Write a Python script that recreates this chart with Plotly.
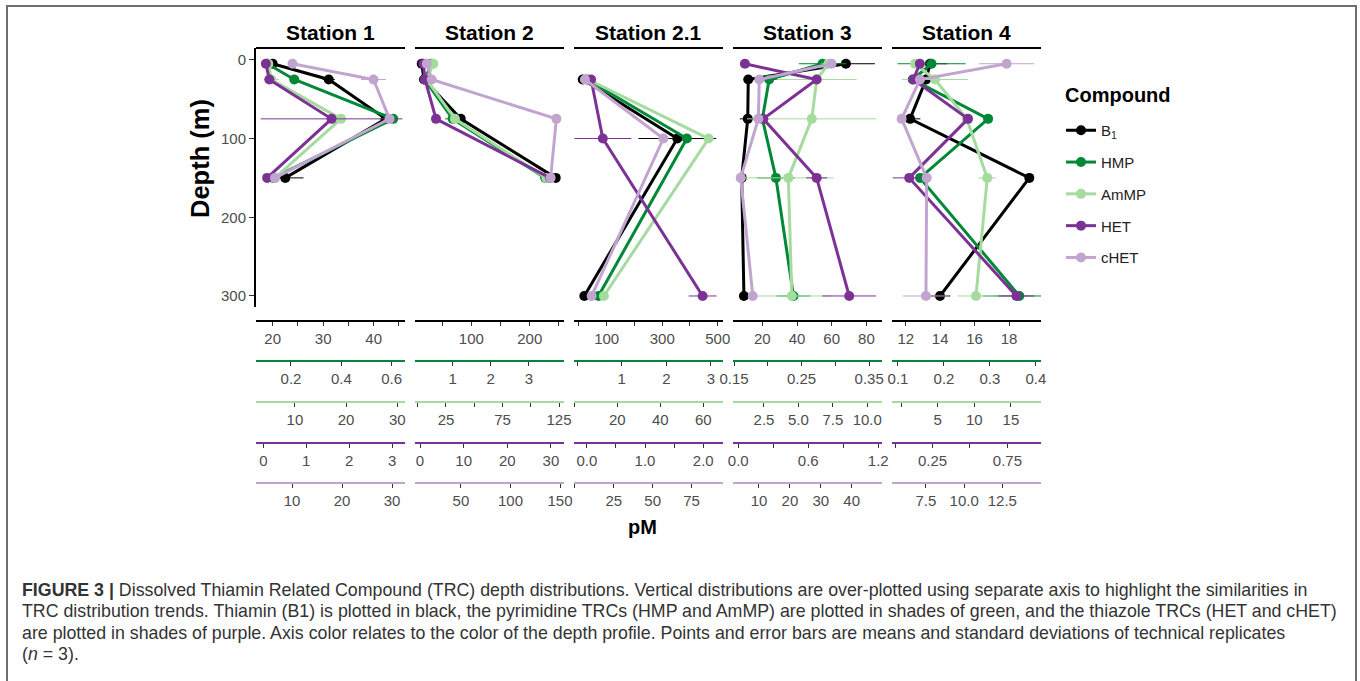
import plotly.graph_objects as go

W, H = 1360, 681
FONT = "Liberation Sans, Arial, Helvetica, sans-serif"

# ---------------- data ----------------
STATIONS = ["Station 1", "Station 2", "Station 2.1", "Station 3", "Station 4"]
COMPOUNDS = ["B1", "HMP", "AmMP", "HET", "cHET"]
LEGEND_NAMES = ["B<sub>1</sub>", "HMP", "AmMP", "HET", "cHET"]
COLORS = ["#000000", "#008837", "#a6dba0", "#7b3294", "#c2a5cf"]

# Station 1
s1_depth = [5, 25, 75, 150]
s1_B1 = [20.0, 31.1, 42.4, 22.5]
s1_B1_sd = [0.3, 1.2, 1.2, 3.6]
s1_HMP = [0.106, 0.213, 0.606, 0.13]
s1_HMP_sd = [0.01, 0.01, 0.02, 0.01]
s1_AmMP = [4.8, 5.4, 19.0, 6.1]
s1_AmMP_sd = [0.3, 1.5, 0.8, 0.5]
s1_HET = [0.06, 0.14, 1.59, 0.09]
s1_HET_sd = [0.01, 0.01, 1.65, 0.01]
s1_cHET = [10.1, 26.3, 29.5, 6.6]
s1_cHET_sd = [0.3, 2.5, 0.5, 0.3]

# Station 2
s2_depth = [5, 25, 75, 150]
s2_B1 = [15.1, 19.0, 81.9, 244.5]
s2_B1_sd = [1.0, 1.0, 5.0, 2.0]
s2_HMP = [0.45, 0.27, 1.0, 3.43]
s2_HMP_sd = [0.03, 0.02, 0.2, 0.15]
s2_AmMP = [13.8, 7.9, 32.9, 113.8]
s2_AmMP_sd = [1.0, 0.5, 1.0, 1.0]
s2_HET = [0.75, 1.14, 3.66, 29.8]
s2_HET_sd = [0.05, 0.05, 0.1, 0.3]
s2_cHET = [15.6, 20.6, 146.3, 140.5]
s2_cHET_sd = [0.5, 0.5, 1.0, 1.0]

# Station 2.1
s21_depth = [25, 100, 300]
s21_B1 = [13.6, 354.5, 19.3]
s21_B1_sd = [2.0, 140.0, 2.0]
s21_HMP = [0.22, 2.46, 0.48]
s21_HMP_sd = [0.02, 0.05, 0.02]
s21_AmMP = [6.5, 62.5, 13.8]
s21_AmMP_sd = [0.3, 1.0, 0.5]
s21_HET = [0.074, 0.275, 1.99]
s21_HET_sd = [0.01, 0.49, 0.24]
s21_cHET = [6.4, 56.9, 10.7]
s21_cHET_sd = [0.3, 1.0, 0.5]

# Station 3
s3_depth = [5, 25, 75, 150, 300]
s3_B1 = [68.2, 11.9, 11.6, 8.1, 9.4]
s3_B1_sd = [16.7, 1.0, 4.6, 1.0, 1.0]
s3_HMP = [0.281, 0.202, 0.192, 0.212, 0.238]
s3_HMP_sd = [0.035, 0.02, 0.01, 0.028, 0.025]
s3_AmMP = [7.18, 6.33, 5.97, 4.27, 4.52]
s3_AmMP_sd = [0.5, 2.9, 4.7, 3.3, 2.85]
s3_HET = [0.057, 0.672, 0.214, 0.672, 0.951]
s3_HET_sd = [0.01, 0.02, 0.02, 0.09, 0.23]
s3_cHET = [33.5, 10.1, 9.8, 4.1, 8.0]
s3_cHET_sd = [0.5, 0.5, 0.5, 0.5, 0.5]

# Station 4
s4_depth = [5, 25, 75, 150, 300]
s4_B1 = [13.41, 13.18, 12.25, 19.18, 13.99]
s4_B1_sd = [1.0, 0.3, 0.6, 0.2, 0.6]
s4_HMP = [0.173, 0.132, 0.296, 0.148, 0.364]
s4_HMP_sd = [0.074, 0.01, 0.01, 0.01, 0.08]
s4_AmMP = [1.91, 4.64, 8.96, 11.77, 10.23]
s4_AmMP_sd = [0.5, 4.5, 0.5, 1.2, 2.5]
s4_HET = [0.166, 0.122, 0.487, 0.095, 0.81]
s4_HET_sd = [0.02, 0.02, 0.02, 0.11, 0.12]
s4_cHET = [12.78, 7.11, 5.91, 7.55, 7.5]
s4_cHET_sd = [1.8, 0.3, 0.3, 0.3, 1.5]

# labelled tick values for each station (B1, HMP, AmMP, HET, cHET axes)
s1_ticks = [[20, 30, 40], [0.2, 0.4, 0.6], [10, 20, 30], [0, 1, 2, 3], [10, 20, 30]]
s2_ticks = [[100, 200], [1, 2, 3], [25, 75, 125], [0, 10, 20, 30], [50, 100, 150]]
s21_ticks = [[100, 300, 500], [1, 2, 3], [20, 40, 60], [0, 1, 2], [25, 50, 75]]
s3_ticks = [[20, 40, 60, 80], [0.15, 0.25, 0.35], [2.5, 5, 7.5, 10], [0, 0.6, 1.2], [10, 20, 30, 40]]
s4_ticks = [[12, 14, 16, 18], [0.1, 0.2, 0.3, 0.4], [5, 10, 15], [0.25, 0.75], [7.5, 10, 12.5]]
# tick labels
s1_labels = [["20", "30", "40"], ["0.2", "0.4", "0.6"], ["10", "20", "30"], ["0", "1", "2", "3"], ["10", "20", "30"]]
s2_labels = [["100", "200"], ["1", "2", "3"], ["25", "75", "125"], ["0", "10", "20", "30"], ["50", "100", "150"]]
s21_labels = [["100", "300", "500"], ["1", "2", "3"], ["20", "40", "60"], ["0.0", "1.0", "2.0"], ["25", "50", "75"]]
s3_labels = [["20", "40", "60", "80"], ["0.15", "0.25", "0.35"], ["2.5", "5.0", "7.5", "10.0"], ["0.0", "0.6", "1.2"], ["10", "20", "30", "40"]]
s4_labels = [["12", "14", "16", "18"], ["0.1", "0.2", "0.3", "0.4"], ["5", "10", "15"], ["0.25", "0.75"], ["7.5", "10.0", "12.5"]]
# unlabelled tick positions
s1_minor = [[25, 35, 45], [], [], [], []]
s2_minor = [[50, 150, 250], [], [0, 50, 100], [], []]
s21_minor = [[0, 200, 400], [0], [0], [0.5, 1.5], [0]]
s3_minor = [[], [0.2, 0.3], [], [0.3, 0.9], []]
s4_minor = [[], [], [0], [0, 0.5], []]

depth_ticks = [0, 100, 200, 300]

# ---------------- assemble ----------------
station_data = [
    (s1_depth, [s1_B1, s1_HMP, s1_AmMP, s1_HET, s1_cHET], [s1_B1_sd, s1_HMP_sd, s1_AmMP_sd, s1_HET_sd, s1_cHET_sd], s1_ticks, s1_labels, s1_minor),
    (s2_depth, [s2_B1, s2_HMP, s2_AmMP, s2_HET, s2_cHET], [s2_B1_sd, s2_HMP_sd, s2_AmMP_sd, s2_HET_sd, s2_cHET_sd], s2_ticks, s2_labels, s2_minor),
    (s21_depth, [s21_B1, s21_HMP, s21_AmMP, s21_HET, s21_cHET], [s21_B1_sd, s21_HMP_sd, s21_AmMP_sd, s21_HET_sd, s21_cHET_sd], s21_ticks, s21_labels, s21_minor),
    (s3_depth, [s3_B1, s3_HMP, s3_AmMP, s3_HET, s3_cHET], [s3_B1_sd, s3_HMP_sd, s3_AmMP_sd, s3_HET_sd, s3_cHET_sd], s3_ticks, s3_labels, s3_minor),
    (s4_depth, [s4_B1, s4_HMP, s4_AmMP, s4_HET, s4_cHET], [s4_B1_sd, s4_HMP_sd, s4_AmMP_sd, s4_HET_sd, s4_cHET_sd], s4_ticks, s4_labels, s4_minor),
]

# axis ranges (layout, per station / compound)
AXIS_RANGES = [
    [[16.7, 46.2], [0.061, 0.653], [2.4, 31.5], [-0.17, 3.3], [2.8, 32.6]],
    [[3.6, 258.7], [0.013, 3.92], [-2.4, 129.4], [-1.15, 33.0], [3.7, 154.0]],
    [[-17.8, 519.0], [-0.068, 3.27], [-0.1, 69.2], [-0.22, 2.34], [-0.64, 95.3]],
    [[3.1, 89.0], [0.1485, 0.369], [0.25, 11.07], [-0.045, 1.232], [1.6, 49.8]],
    [[11.2, 19.86], [0.087, 0.411], [-1.23, 19.1], [-0.02, 0.974], [5.28, 15.03]],
]

PANEL_PX = [(256, 405), (415, 564), (574, 723), (733, 882), (892, 1041)]
AXIS_ROW_PX = [321, 361, 402, 443, 483]
PLOT_TOP, PLOT_BOTTOM = 48, 307

fig = go.Figure()
draw_order = [4, 2, 3, 1, 0]

for p, (depth, vals, sds, tv, tt, mn) in enumerate(station_data):
    for c in draw_order:
        ax = p * 5 + c + 1
        xname = "x" if ax == 1 else f"x{ax}"
        fig.add_trace(go.Scatter(
            x=vals[c], y=depth, xaxis=xname, yaxis="y",
            mode="lines+markers",
            line=dict(color=COLORS[c], width=3),
            marker=dict(color=COLORS[c], size=10),
            error_x=dict(type="data", array=sds[c], visible=True, width=0,
                         thickness=1, color=COLORS[c]),
            name=LEGEND_NAMES[c], legendgroup=COMPOUNDS[c],
            showlegend=(p == 0), legendrank=c + 1,
        ))

layout_axes = {}
for p, (depth, vals, sds, tv, tt, mn) in enumerate(station_data):
    x0, x1 = PANEL_PX[p]
    main = p * 5 + 1
    for c in range(5):
        ax = p * 5 + c + 1
        key = "xaxis" if ax == 1 else f"xaxis{ax}"
        d = dict(
            domain=[x0 / W, x1 / W], range=AXIS_RANGES[p][c],
            anchor="free", position=1 - AXIS_ROW_PX[c] / H, side="bottom",
            showline=True, linecolor=COLORS[c], linewidth=2,
            ticks="outside", ticklen=4, tickwidth=1.3, tickcolor="#333333",
            tickmode="array", tickvals=tv[c], ticktext=tt[c],
            tickfont=dict(family=FONT, size=15, color="#4d4d4d"),
            showgrid=False, zeroline=False, automargin=False, fixedrange=True,
        )
        if mn[c]:
            d["minor"] = dict(tickmode="array", tickvals=mn[c], ticks="outside",
                              ticklen=4, tickwidth=1.3, tickcolor="#333333",
                              showgrid=False)
        if c > 0:
            d["overlaying"] = "x" if main == 1 else f"x{main}"
        layout_axes[key] = d

fig.update_layout(**layout_axes)
fig.update_layout(
    width=W, height=H, autosize=False,
    margin=dict(l=0, r=0, t=0, b=0),
    paper_bgcolor="white", plot_bgcolor="rgba(0,0,0,0)",
    font=dict(family=FONT, color="#222222"),
    yaxis=dict(
        domain=[1 - PLOT_BOTTOM / H, 1 - PLOT_TOP / H], range=[314, -15],
        anchor="x", showline=True, linecolor="black", linewidth=2,
        ticks="outside", ticklen=5, tickwidth=1.3, tickcolor="#333333",
        tickmode="array", tickvals=depth_ticks,
        tickfont=dict(family=FONT, size=15, color="#4d4d4d"),
        showgrid=False, zeroline=False, automargin=False, fixedrange=True,
    ),
    legend=dict(
        x=1061 / W, y=1 - 114 / H, xanchor="left", yanchor="top",
        font=dict(family=FONT, size=15, color="#222222"),
        tracegroupgap=9.3, itemwidth=30, bgcolor="rgba(0,0,0,0)",
    ),
    showlegend=True,
)

shapes = [dict(type="rect", xref="paper", yref="paper", x0=7 / W, x1=1356 / W,
               y0=-0.1, y1=1 - 6 / H, line=dict(color="#6e6e6e", width=2),
               fillcolor="rgba(0,0,0,0)", layer="below")]
annotations = []
for p, st in enumerate(STATIONS):
    x0, x1 = PANEL_PX[p]
    shapes.append(dict(type="line", xref="paper", yref="paper", x0=x0 / W, x1=x1 / W,
                       y0=1 - PLOT_TOP / H, y1=1 - PLOT_TOP / H,
                       line=dict(color="black", width=2)))
    annotations.append(dict(text=f"<b>{st}</b>", xref="paper", yref="paper",
                            x=(x0 + x1) / 2 / W, y=1 - 32 / H, showarrow=False,
                            xanchor="center", yanchor="middle",
                            font=dict(family=FONT, size=21, color="black")))

annotations.append(dict(text="<b>Compound</b>", xref="paper", yref="paper",
                        x=1063 / W, y=1 - 95 / H, showarrow=False,
                        xanchor="left", yanchor="middle",
                        font=dict(family=FONT, size=20, color="black")))
annotations.append(dict(text="<b>Depth (m)</b>", xref="paper", yref="paper",
                        x=200 / W, y=1 - 159 / H, showarrow=False, textangle=-90,
                        xanchor="center", yanchor="middle",
                        font=dict(family=FONT, size=25.5, color="black")))
annotations.append(dict(text="<b>pM</b>", xref="paper", yref="paper",
                        x=642 / W, y=1 - 527 / H, showarrow=False,
                        xanchor="center", yanchor="middle",
                        font=dict(family=FONT, size=20, color="black")))

caption_lines = [
    "<b>FIGURE 3 |</b> Dissolved Thiamin Related Compound (TRC) depth distributions. Vertical distributions are over-plotted using separate axis to highlight the similarities in",
    "TRC distribution trends. Thiamin (B1) is plotted in black, the pyrimidine TRCs (HMP and AmMP) are plotted in shades of green, and the thiazole TRCs (HET and cHET)",
    "are plotted in shades of purple. Axis color relates to the color of the depth profile. Points and error bars are means and standard deviations of technical replicates",
    "(<i>n</i> = 3).",
]
caption_y = [590, 611, 633, 654]
for line, yy in zip(caption_lines, caption_y):
    annotations.append(dict(text=line, xref="paper", yref="paper", x=20 / W, y=1 - yy / H,
                            showarrow=False, xanchor="left", yanchor="middle",
                            font=dict(family=FONT, size=17.8, color="#333333")))

fig.update_layout(shapes=shapes, annotations=annotations)
fig.write_html("out.html", config={"displayModeBar": False},
               post_script="document.body.style.margin='0px';")
